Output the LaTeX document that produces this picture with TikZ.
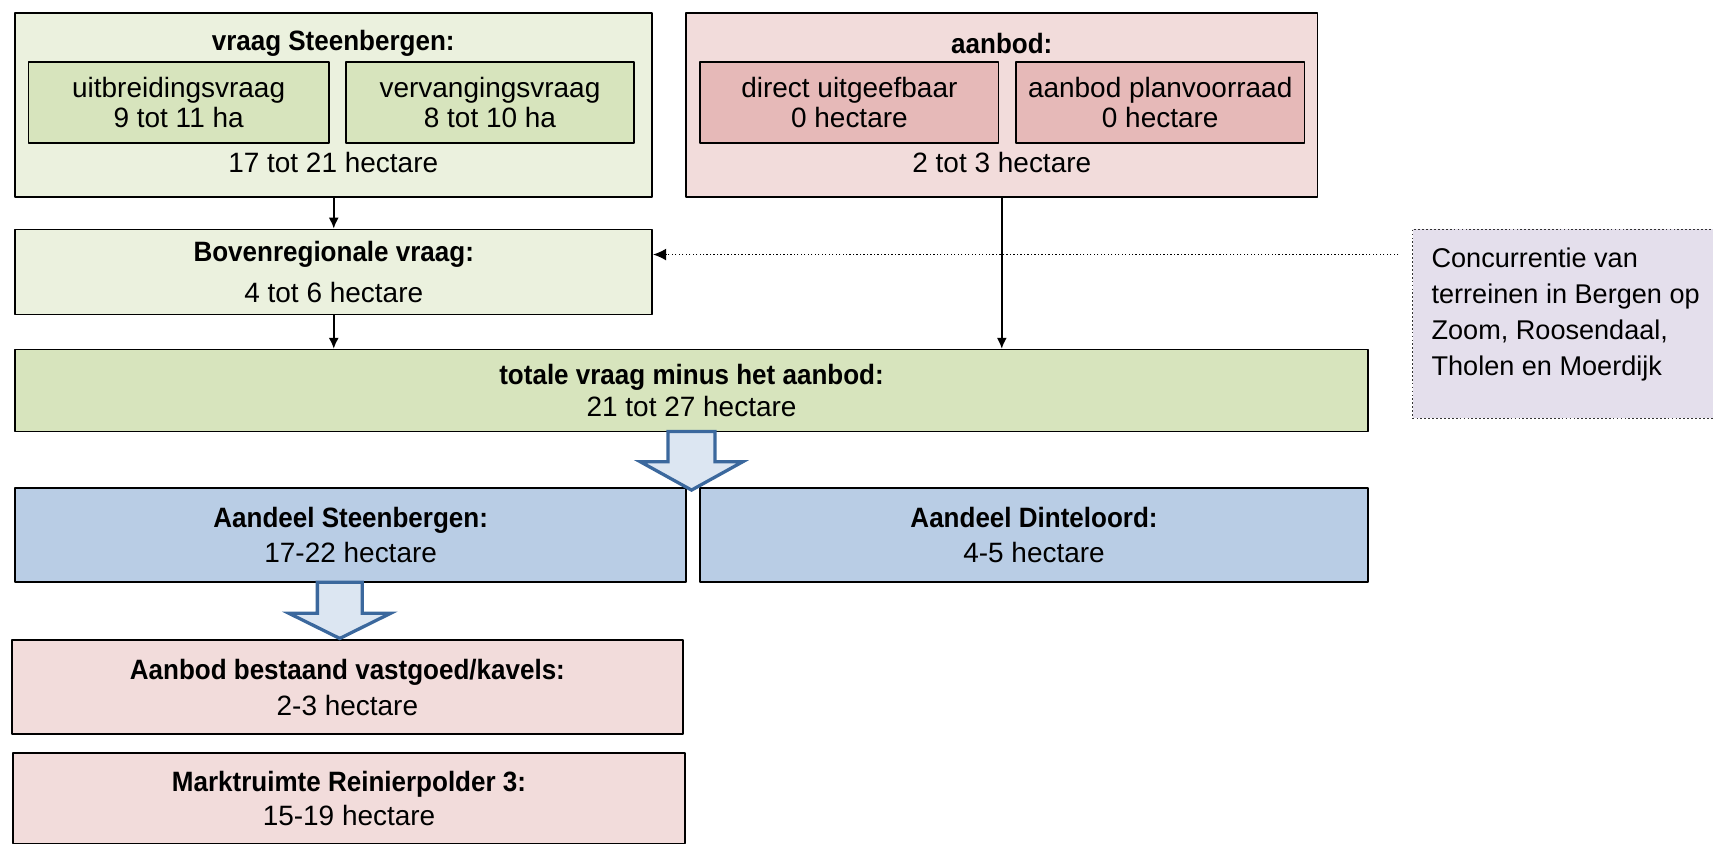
\documentclass[tikz,border=0pt]{standalone}
\usepackage{fontspec}
\setmainfont{Liberation Sans}[BoldFeatures={FakeStretch=0.93}]
\usetikzlibrary{arrows.meta}
\definecolor{greenlight}{HTML}{EBF1DE}
\definecolor{greenmid}{HTML}{D7E4BD}
\definecolor{pinklight}{HTML}{F2DCDB}
\definecolor{pinkmid}{HTML}{E6B9B8}
\definecolor{bluebox}{HTML}{B9CDE5}
\definecolor{lavender}{HTML}{E4DFEC}
\definecolor{arrowfill}{HTML}{DCE6F2}
\definecolor{arrowline}{HTML}{3B689D}
\tikzset{
  box/.style={draw=black,line width=0.8bp,inner sep=0pt,align=center},
  bigarrow/.style={draw=arrowline,fill=arrowfill,line width=1.5bp,line join=miter},
}
\begin{document}
\begin{tikzpicture}[>={Latex[length=5bp,width=4.6bp]},line join=bevel,font=\fontsize{12.8bp}{15bp}\selectfont]
\useasboundingbox (0bp,0bp) rectangle (784bp,386.5bp);
%%
\node (vraag) at (152.75bp,338.5bp) [box,fill=greenlight,minimum width=291.5bp,minimum height=84bp] {};
  \node (vraag_title) at (152.5bp,366.5bp) {\textbf{vraag Steenbergen:}};
  \node (uitbreiding) at (81.75bp,339.5bp) [box,fill=greenmid,minimum width=137.5bp,minimum height=37bp] {uitbreidingsvraag\\[-1.5bp]9 tot 11 ha};
  \node (vervanging) at (224.25bp,339.5bp) [box,fill=greenmid,minimum width=131.5bp,minimum height=37bp] {vervangingsvraag\\[-1.5bp]8 tot 10 ha};
  \node (vraag_sum) at (152.5bp,311.9bp) {17 tot 21 hectare};
%
\node (aanbod) at (458.5bp,338.5bp) [box,fill=pinklight,minimum width=289bp,minimum height=84bp] {};
  \node (aanbod_title) at (458.5bp,366.5bp) {\textbf{aanbod:}};
  \node (direct) at (388.75bp,339.5bp) [box,fill=pinkmid,minimum width=136.5bp,minimum height=37bp] {direct uitgeefbaar\\[-1.5bp]0 hectare};
  \node (planvoorraad) at (531bp,339.5bp) [box,fill=pinkmid,minimum width=132bp,minimum height=37bp] {aanbod planvoorraad\\[-1.5bp]0 hectare};
  \node (aanbod_sum) at (458.5bp,311.9bp) {2 tot 3 hectare};
%
\node (boven) at (152.75bp,262bp) [box,fill=greenlight,minimum width=291.5bp,minimum height=39bp] {\textbf{Bovenregionale vraag:}\\[3.5bp]4 tot 6 hectare};
  \node (totale) at (316.5bp,207.75bp) [box,fill=greenmid,minimum width=619bp,minimum height=37.5bp] {\textbf{totale vraag minus het aanbod:}\\21 tot 27 hectare};
  \node (conc) at (718.25bp,238.25bp) [box,fill=lavender,draw=black!80,densely dotted,minimum width=143.5bp,minimum height=86.5bp] {};
  \node (conc_text) at (655bp,242.5bp) [anchor=west,align=left,inner sep=0pt,font=\fontsize{12.4bp}{16.4bp}\selectfont] {Concurrentie van\\terreinen in Bergen op\\Zoom, Roosendaal,\\Tholen en Moerdijk};
  \coordinate (conc_in) at (640bp,270bp);
%
\node (aandeel_st) at (160.5bp,141.5bp) [box,fill=bluebox,minimum width=307bp,minimum height=43bp] {\textbf{Aandeel Steenbergen:}\\[1bp]17-22 hectare};
  \node (aandeel_di) at (473.25bp,141.5bp) [box,fill=bluebox,minimum width=305.5bp,minimum height=43bp] {\textbf{Aandeel Dinteloord:}\\[1bp]4-5 hectare};
  \node (bestaand) at (159bp,72bp) [box,fill=pinklight,minimum width=307bp,minimum height=43bp] {\textbf{Aanbod bestaand vastgoed/kavels:}\\[1.5bp]2-3 hectare};
  \node (markt) at (159.75bp,21.2bp) [box,fill=pinklight,minimum width=307.5bp,minimum height=41.6bp] {\textbf{Marktruimte Reinierpolder 3:}\\[0.5bp]15-19 hectare};
%%
\draw [black,line width=0.7bp,->] (vraag.south) -- (boven.north);
  \draw [black,line width=0.7bp,->] (boven.south) -- (boven.south |- totale.north);
  \draw [black,line width=0.7bp,->] (aanbod.south) -- (aanbod.south |- totale.north);
  \draw [black,line width=0.6bp,densely dotted,-{Latex[length=6bp,width=5.5bp]}] (conc_in) -- (conc_in -| boven.east);
%
\draw [bigarrow] (305.75bp,189bp) -- (305.75bp,175.2bp) -- (293bp,175.2bp) -- (316.5bp,162.2bp) -- (340bp,175.2bp) -- (327.25bp,175.2bp) -- (327.25bp,189bp) -- cycle;
  \draw [bigarrow] (145.25bp,120bp) -- (145.25bp,105.8bp) -- (132.25bp,105.8bp) -- (155.5bp,94.3bp) -- (178.75bp,105.8bp) -- (165.75bp,105.8bp) -- (165.75bp,120bp) -- cycle;
%
\end{tikzpicture}
\end{document}
